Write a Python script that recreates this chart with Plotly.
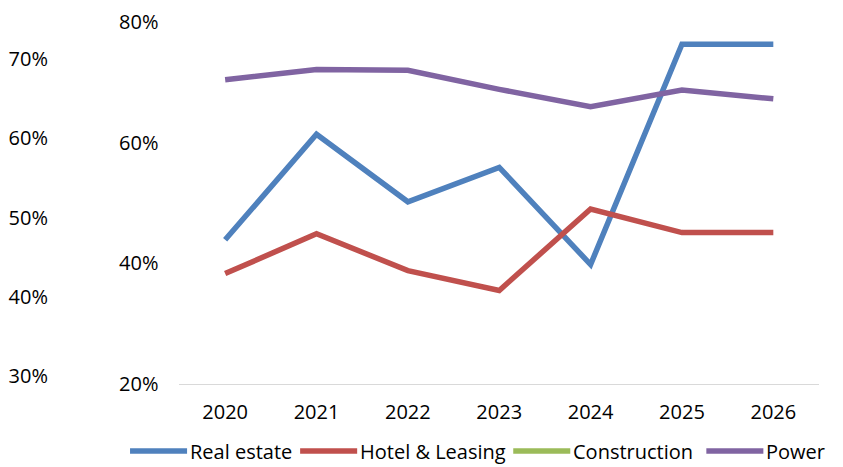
import plotly.graph_objects as go

years = ["2020", "2021", "2022", "2023", "2024", "2025", "2026"]
real_estate = [43.9, 61.4, 50.2, 55.9, 39.8, 76.3, 76.3]
hotel_leasing = [38.3, 44.9, 38.8, 35.5, 49.0, 45.1, 45.1]
construction = [None, None, None, None, None, None, None]
power = [67.4, 68.7, 68.6, 66.2, 64.0, 66.1, 65.0]

inner_ticks = [20, 40, 60, 80]
outer_ticks = [30, 40, 50, 60, 70]

series_names = ["Real estate", "Hotel & Leasing", "Construction", "Power"]
series_colors = ["#4F81BD", "#C0504D", "#9BBB59", "#8064A2"]

font = dict(family="Open Sans, Lato, sans-serif", size=20, color="#000000")

# the page body adds an 8px offset, so the figure is sized to fill the rest of the window
OFF = 8
W, H = 843 - OFF, 467 - OFF
ML, MR, MT, MB = 50, 24.4, 14, 83
plot_w = W - ML - MR
plot_h = H - MT - MB
plot_left = 171.4

fig = go.Figure()
fig.add_trace(go.Scatter(x=years, y=real_estate, name=series_names[0], mode="lines",
                         line=dict(color=series_colors[0], width=5.5), yaxis="y"))
fig.add_trace(go.Scatter(x=years, y=hotel_leasing, name=series_names[1], mode="lines",
                         line=dict(color=series_colors[1], width=5.5), yaxis="y"))
fig.add_trace(go.Scatter(x=years, y=construction, name=series_names[2], mode="lines",
                         line=dict(color=series_colors[2], width=5.5), yaxis="y2"))
fig.add_trace(go.Scatter(x=years, y=power, name=series_names[3], mode="lines",
                         line=dict(color=series_colors[3], width=5.5), yaxis="y2"))

# manual legend (long line symbols like the original)
leg_y_px = 443
leg_line_px = [(122, 179), (292, 349), (505, 562), (698, 755)]
shapes, annotations = [], []
ly = (H - MB - leg_y_px) / plot_h
for (x0, x1), name, col in zip(leg_line_px, series_names, series_colors):
    shapes.append(dict(type="line", xref="paper", yref="paper",
                       x0=(x0 - ML) / plot_w, x1=(x1 - ML) / plot_w, y0=ly, y1=ly,
                       line=dict(color=col, width=5.5)))
    annotations.append(dict(text=name, xref="paper", yref="paper",
                            x=(x1 + 1 - ML) / plot_w, y=ly, xanchor="left", yanchor="middle",
                            showarrow=False, font=font))

fig.update_layout(
    width=W, height=H,
    margin=dict(l=ML, r=MR, t=MT, b=MB),
    plot_bgcolor="white", paper_bgcolor="white",
    font=font,
    showlegend=False,
    shapes=shapes, annotations=annotations,
    xaxis=dict(domain=[(plot_left - ML) / plot_w, 1], range=[-0.5, 6.5], showgrid=False,
               showline=True, linecolor="#d9d9d9", linewidth=1, ticks="",
               ticklabelstandoff=10, zeroline=False, automargin=False),
    yaxis=dict(range=[20, 80], tickvals=inner_ticks, ticktext=[f"{v}%" for v in inner_ticks],
               showgrid=False, zeroline=False, showline=False, ticks="",
               ticklabelstandoff=20, anchor="x", automargin=False,
               ticklabeloverflow="allow"),
    yaxis2=dict(range=[29.0, 74.7], tickvals=outer_ticks, ticktext=[f"{v}%" for v in outer_ticks],
                overlaying="y", side="left", anchor="free", position=0,
                showgrid=False, zeroline=False, showline=False, ticks="",
                ticklabelstandoff=10, automargin=False, ticklabeloverflow="allow"),
)

fig.write_html("out.html")
